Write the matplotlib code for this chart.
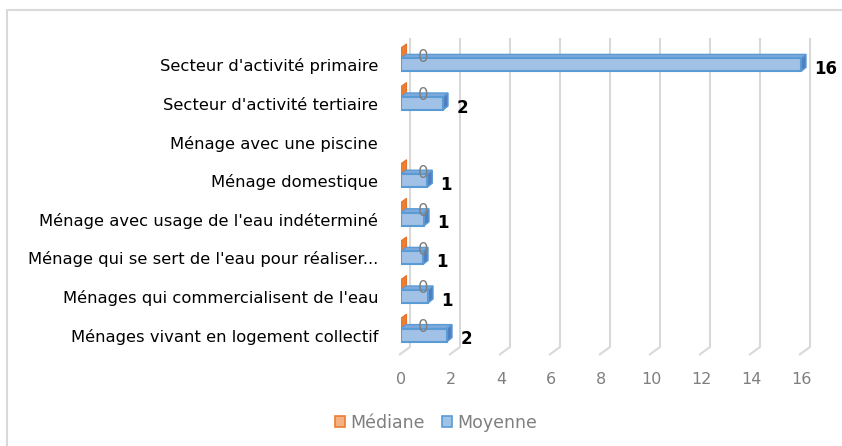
import numpy as np
import matplotlib
matplotlib.use("Agg")
import matplotlib.pyplot as plt
from matplotlib.patches import Polygon, Patch
from matplotlib.lines import Line2D

# ---------------- data ----------------
categories = [
    "Secteur d'activité primaire",
    "Secteur d'activité tertiaire",
    "Ménage avec une piscine",
    "Ménage domestique",
    "Ménage avec usage de l'eau indéterminé",
    "Ménage qui se sert de l'eau pour réaliser...",
    "Ménages qui commercialisent de l'eau",
    "Ménages vivant en logement collectif",
]
moyenne = [16.0, 1.68, np.nan, 1.05, 0.92, 0.88, 1.08, 1.84]
mediane = [0.0, 0.0, np.nan, 0.0, 0.0, 0.0, 0.0, 0.0]
xticks = [0, 2, 4, 6, 8, 10, 12, 14, 16]
series_names = ["Médiane", "Moyenne"]

plt.rcParams['font.family'] = ['DejaVu Sans']

W, H = 842, 446
fig = plt.figure(figsize=(W / 100, H / 100), dpi=100)

# axes geometry in pixels
px0, px1 = 401, 842          # x=0 at 401 px, 25 px per unit
ppu_x = 25.0
py_top, py_bot = 38, 365
y0_px, ppu_y = 64.9, 38.6    # category 0 centre, px per category
ax = fig.add_axes([px0 / W, 1 - py_bot / H, (px1 - px0) / W, (py_bot - py_top) / H])
ax.set_xlim(0, (px1 - px0) / ppu_x)
ax.set_ylim((py_bot - y0_px) / ppu_y, (py_top - y0_px) / ppu_y)
for s in ax.spines.values():
    s.set_visible(False)

# 3D depth in data units
ddx = 5 / ppu_x
ddy = -4 / ppu_y
bar_h = 13 / ppu_y

# gridlines with small floor segment
grid_col = "#d9d9d9"
y_floor_front = (355 - y0_px) / ppu_y
y_floor_back = (347 - y0_px) / ppu_y
y_grid_top = (py_top - y0_px) / ppu_y
for v in xticks:
    ax.plot([v - 0.08, v + 0.36, v + 0.36],
            [y_floor_front, y_floor_back, y_grid_top],
            color=grid_col, lw=1.5, zorder=1, clip_on=False, solid_capstyle='butt')

blue_front = "#a2c1e6"
blue_edge = "#5b9bd5"
blue_top = "#7ea9dc"
blue_side = "#4f7fc0"
orange_face = "#ed7d31"
orange_edge = "#e8712a"

for i, (mv, md) in enumerate(zip(moyenne, mediane)):
    if np.isnan(mv):
        continue
    # Médiane (zero-length bar: only its side face is visible)
    oy_bot = i - 0.12
    oy_top = i - 0.44
    odx = 5.5 / ppu_x
    poly = Polygon([(md, oy_bot), (md, oy_top), (md + odx, oy_top + ddy), (md + odx, oy_bot + ddy)],
                   closed=True, facecolor=orange_face, edgecolor=orange_edge, lw=0.8, zorder=3)
    ax.add_patch(poly)
    # Moyenne bar
    yt = i - bar_h / 2
    yb = i + bar_h / 2
    top = Polygon([(0, yt), (mv, yt), (mv + ddx, yt + ddy), (ddx, yt + ddy)], closed=True,
                  facecolor=blue_top, edgecolor=blue_edge, lw=1.0, zorder=4)
    side = Polygon([(mv, yt), (mv + ddx, yt + ddy), (mv + ddx, yb + ddy), (mv, yb)], closed=True,
                   facecolor=blue_side, edgecolor=blue_edge, lw=1.0, zorder=4, clip_on=False)
    ax.add_patch(top)
    ax.add_patch(side)
    ax.barh(i, mv, height=bar_h, left=0, color=blue_front, edgecolor=blue_edge, lw=1.5, zorder=5)
    # labels
    ax.annotate(f"{md:.0f}", xy=(md, i), xytext=(12.5, 5.8), textcoords="offset points",
                ha="left", va="center", fontsize=12, color="#7f7f7f", zorder=6)
    ax.annotate(f"{mv:.0f}", xy=(mv, i), xytext=(9.5, -3.0), textcoords="offset points",
                ha="left", va="center", fontsize=12, fontweight="bold", color="#000000",
                zorder=6, annotation_clip=False)

ax.set_yticks(range(len(categories)))
ax.set_yticklabels(categories, fontsize=11.8, color="#000000")
ax.set_xticks(xticks)
ax.set_xticklabels([str(v) for v in xticks], fontsize=11.5, color="#7f7f7f")
ax.tick_params(axis='y', length=0, pad=16.5)
ax.tick_params(axis='x', length=0, pad=5.0)

# chart border (top and left visible)
bx = 6.5 / W
by = 1 - 9.5 / H
fig.add_artist(Line2D([bx, bx, 1], [0, by, by], transform=fig.transFigure,
                      color="#d9d9d9", lw=1.5))

handles = [Patch(facecolor="#f4b183", edgecolor="#ed7d31", lw=1.2),
           Patch(facecolor="#9dc3e6", edgecolor="#5b9bd5", lw=1.2)]
fig.legend(handles, series_names, loc="center", bbox_to_anchor=(436 / W, 1 - 423 / H),
           ncol=2, frameon=False, fontsize=12.5, handlelength=0.6, handleheight=0.6,
           handletextpad=0.3, columnspacing=1.0, labelcolor="#7f7f7f")

fig.savefig("out.png", dpi=100)
